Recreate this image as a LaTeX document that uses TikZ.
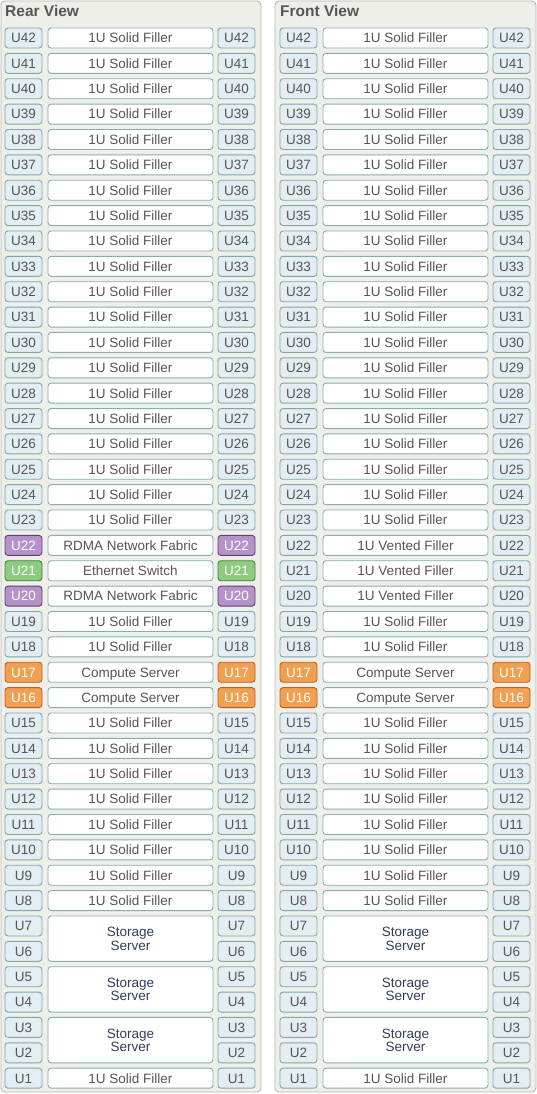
\documentclass[tikz,border=0pt]{standalone}
\usepackage{fontspec}
\setmainfont{Liberation Sans}
\definecolor{panelfill}{HTML}{EFEFEA}
\definecolor{panelline}{HTML}{B8B8B0}
\definecolor{ufill}{HTML}{E4EEF2}
\definecolor{uline}{HTML}{7FA5AE}
\definecolor{mline}{HTML}{86ADB5}
\definecolor{txt}{HTML}{555555}
\definecolor{navy}{HTML}{2E3E5C}
\definecolor{purfill}{HTML}{B592C9}
\definecolor{purline}{HTML}{5E3F6E}
\definecolor{grnfill}{HTML}{8DCB7F}
\definecolor{grnline}{HTML}{3F7F3A}
\definecolor{orgfill}{HTML}{F0A050}
\definecolor{orgline}{HTML}{C05E1E}
\newcommand{\urow}[5]{%
  \pgfmathsetmacro{\yy}{-(38+(42-#3)*25.37)}%
  \node[#4] (#1L#3) at (#2+23.5,\yy) {U#3};
  \node[#4] (#1R#3) at (#2+236.5,\yy) {U#3};
  \node[midbox] (#1M#3) at (#2+130.5,\yy) {#5};
}
\newcommand{\srow}[4]{%
  \pgfmathsetmacro{\ya}{-(38+(42-#3)*25.37)}%
  \pgfmathsetmacro{\yb}{-(38+(42-#4)*25.37)}%
  \pgfmathsetmacro{\ym}{(\ya+\yb)/2}%
  \node[ulab] (#1L#3) at (#2+23.5,\ya) {U#3};
  \node[ulab] (#1R#3) at (#2+236.5,\ya) {U#3};
  \node[ulab] (#1L#4) at (#2+23.5,\yb) {U#4};
  \node[ulab] (#1R#4) at (#2+236.5,\yb) {U#4};
  \node[midbox, minimum height=45.37pt, text=navy, align=center,
        text height={}, text depth={},
        font=\fontsize{13.5}{13.5}\selectfont] (#1S#3) at (#2+130.5,\ym) {Storage\\Server};
}
\begin{document}
\begin{tikzpicture}[x=1pt,y=1pt,
  basebox/.style={rounded corners=3pt, inner sep=0pt, line width=0.9pt,
    minimum height=20pt, text height=9.7pt, text depth=0pt,
    font=\fontsize{13.5}{14}\selectfont},
  ulab/.style={basebox, draw=uline, fill=ufill, text=txt, minimum width=37pt},
  purlab/.style={basebox, draw=purline, fill=purfill, text=white, minimum width=37pt},
  grnlab/.style={basebox, draw=grnline, fill=grnfill, text=white, minimum width=37pt},
  orglab/.style={basebox, draw=orgline, fill=orgfill, text=white, minimum width=37pt},
  midbox/.style={basebox, draw=mline, fill=white, text=txt, minimum width=165pt},
  panel/.style={draw=panelline, fill=panelfill, rounded corners=4pt, line width=0.9pt},
  title/.style={anchor=base west, inner sep=0pt, text=txt, font=\bfseries\fontsize{15.5}{16}\selectfont}
]
\useasboundingbox (0,0) rectangle (537,-1094);
\draw[panel] (1,-1) rectangle (261,-1092);
\draw[panel] (275,-1) rectangle (536,-1092);
\node[title] (t1) at (5,-16.7) {Rear View};
\node[title] (t2) at (280,-16.7) {Front View};
% Rear view
\foreach \n in {42,...,23} {\urow{A}{0}{\n}{ulab}{1U Solid Filler}}
\urow{A}{0}{22}{purlab}{RDMA Network Fabric}
\urow{A}{0}{21}{grnlab}{Ethernet Switch}
\urow{A}{0}{20}{purlab}{RDMA Network Fabric}
\urow{A}{0}{19}{ulab}{1U Solid Filler}
\urow{A}{0}{18}{ulab}{1U Solid Filler}
\urow{A}{0}{17}{orglab}{Compute Server}
\urow{A}{0}{16}{orglab}{Compute Server}
\foreach \n in {15,...,8} {\urow{A}{0}{\n}{ulab}{1U Solid Filler}}
\srow{A}{0}{7}{6}
\srow{A}{0}{5}{4}
\srow{A}{0}{3}{2}
\urow{A}{0}{1}{ulab}{1U Solid Filler}
% Front view
\foreach \n in {42,...,23} {\urow{B}{275}{\n}{ulab}{1U Solid Filler}}
\urow{B}{275}{22}{ulab}{1U Vented Filler}
\urow{B}{275}{21}{ulab}{1U Vented Filler}
\urow{B}{275}{20}{ulab}{1U Vented Filler}
\urow{B}{275}{19}{ulab}{1U Solid Filler}
\urow{B}{275}{18}{ulab}{1U Solid Filler}
\urow{B}{275}{17}{orglab}{Compute Server}
\urow{B}{275}{16}{orglab}{Compute Server}
\foreach \n in {15,...,8} {\urow{B}{275}{\n}{ulab}{1U Solid Filler}}
\srow{B}{275}{7}{6}
\srow{B}{275}{5}{4}
\srow{B}{275}{3}{2}
\urow{B}{275}{1}{ulab}{1U Solid Filler}
\end{tikzpicture}
\end{document}
